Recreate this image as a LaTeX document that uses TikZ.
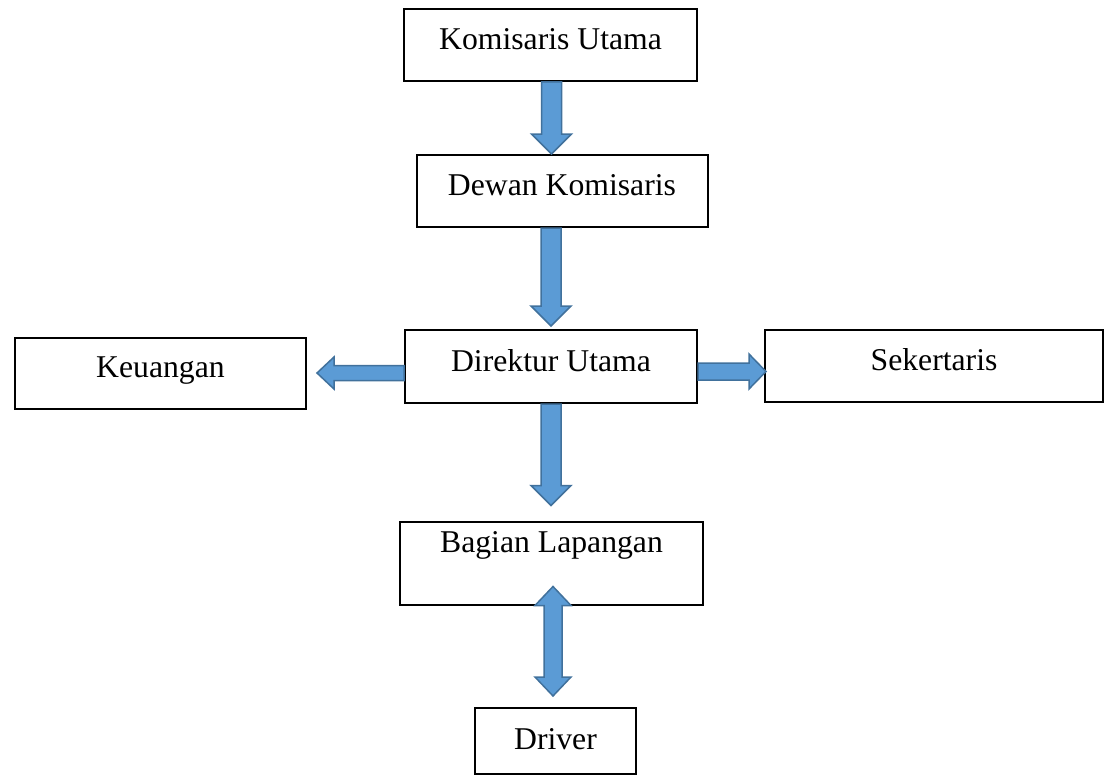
\documentclass[tikz,border=0pt]{standalone}
\usepackage{fontspec}
\setmainfont{Liberation Serif}
\usepackage{xcolor}
\usepackage{tikz}
\usetikzlibrary{calc}
\definecolor{arrowfill}{HTML}{5B9BD5}
\definecolor{arrowline}{HTML}{41719C}

\begin{document}
\begin{tikzpicture}
          [x=1pt,y=1pt,
          font=\fontsize{31.7}{38}\selectfont,
          box/.style={shape=rectangle,draw=black,fill=white,line width=2pt,inner sep=0pt,text height=22pt,text depth=13pt},
          blk/.style={fill=arrowfill,draw=arrowline,line width=1.5pt,line join=miter},
          blkdown/.style={blk,to path={let \p1=(\tikztostart),\p2=(\tikztotarget) in
            (\x1-10pt,\y1) -- (\x1-10pt,\y2+20pt) -- (\x1-20pt,\y2+20pt) -- (\x1,\y2) -- (\x1+20pt,\y2+20pt) -- (\x1+10pt,\y2+20pt) -- (\x1+10pt,\y1) -- cycle}},
          blkleft/.style={blk,to path={let \p1=(\tikztostart),\p2=(\tikztotarget) in
            (\x1,\y1+7.5pt) -- (\x2+17pt,\y1+7.5pt) -- (\x2+17pt,\y1+16pt) -- (\x2,\y1) -- (\x2+17pt,\y1-16pt) -- (\x2+17pt,\y1-7.5pt) -- (\x1,\y1-7.5pt) -- cycle}},
          blkright/.style={blk,to path={let \p1=(\tikztostart),\p2=(\tikztotarget) in
            (\x1,\y1+8.5pt) -- (\x2-17pt,\y1+8.5pt) -- (\x2-17pt,\y1+17.5pt) -- (\x2,\y1) -- (\x2-17pt,\y1-17.5pt) -- (\x2-17pt,\y1-8.5pt) -- (\x1,\y1-8.5pt) -- cycle}},
          blkboth/.style={blk,to path={let \p1=(\tikztostart),\p2=(\tikztotarget) in
            (\x1,\y1) -- (\x1+18pt,\y1-19pt) -- (\x1+9pt,\y1-19pt) -- (\x1+9pt,\y2+19pt) -- (\x1+18pt,\y2+19pt) -- (\x1,\y2)
            -- (\x1-18pt,\y2+19pt) -- (\x1-9pt,\y2+19pt) -- (\x1-9pt,\y1-19pt) -- (\x1-18pt,\y1-19pt) -- cycle}}]

            \useasboundingbox (0,0) rectangle (1106,-776);

            \node (ku) [box,minimum width=293pt,minimum height=72pt] at (550.5,-45) {Komisaris Utama};
            \node (dk) [box,minimum width=291pt,minimum height=72pt] at (562,-191) {Dewan Komisaris};
            \node (dr) [box,minimum width=292pt,minimum height=73pt] at (551,-366.5) {Direktur Utama};
            \node (ke) [box,minimum width=291pt,minimum height=71pt] at (160.5,-373) {Keuangan};
            \node (se) [box,minimum width=338pt,minimum height=72pt] at (934,-366) {Sekertaris};
            \node (bl) [box,minimum width=303pt,minimum height=83pt,text depth=43pt] at (551.5,-563) {Bagian Lapangan};
            \node (dv) [box,minimum width=161pt,minimum height=66pt,text depth=5pt] at (555.5,-741) {Driver};

            \draw [blkdown] ([xshift=1pt]ku.south) to (dk.north);
            \draw [blkdown] (dk.south -| dr.north) to ([yshift=3pt]dr.north);
            \draw [blkleft] ([yshift=-6.5pt]dr.west) to ([xshift=10pt]ke.east);
            \draw [blkright] ([yshift=-5pt]dr.east) to ([xshift=2pt]se.west);
            \draw [blkdown] (dr.south) to ([yshift=15pt]bl.north);
            \draw [blkboth] ([xshift=1.5pt,yshift=19pt]bl.south) to ([yshift=11pt]dv.north);

        \end{tikzpicture}
\end{document}
